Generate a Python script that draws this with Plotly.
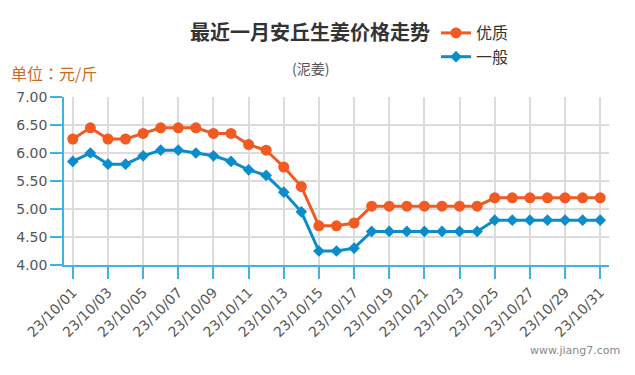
import plotly.graph_objects as go

dates = ["23/10/%02d" % d for d in range(1, 32)]
premium = [6.25, 6.45, 6.25, 6.25, 6.35, 6.45, 6.45, 6.45, 6.35, 6.35,
           6.15, 6.05, 5.75, 5.40, 4.70, 4.70, 4.75, 5.05, 5.05, 5.05,
           5.05, 5.05, 5.05, 5.05, 5.20, 5.20, 5.20, 5.20, 5.20, 5.20, 5.20]
ordinary = [5.85, 6.00, 5.80, 5.80, 5.95, 6.05, 6.05, 6.00, 5.95, 5.85,
            5.70, 5.60, 5.30, 4.95, 4.25, 4.25, 4.30, 4.60, 4.60, 4.60,
            4.60, 4.60, 4.60, 4.60, 4.80, 4.80, 4.80, 4.80, 4.80, 4.80, 4.80]
x_ticks = dates[::2]
y_ticks = [4.0, 4.5, 5.0, 5.5, 6.0, 6.5, 7.0]
y_tick_text = ["%.2f" % v for v in y_ticks]

ORANGE = "#f15a22"
BLUE = "#0b8dcb"
AXIS = "#3cb4e6"
FONT = "DejaVu Sans, Verdana, sans-serif"
CJK = "Noto Sans CJK SC, sans-serif"

# page body has an 8px default margin; work in reference-screen coords
OFF = 8
W, H = 635 - OFF, 375 - OFF
L, T = 64 - OFF, 97 - OFF
R, B = W - (609 - OFF), H - (265 - OFF)
PW, PH = W - L - R, H - T - B


def px(xs):
    return (xs - OFF - L) / PW


def py(ys):
    return (H - B - (ys - OFF)) / PH


fig = go.Figure()
fig.add_trace(go.Scatter(x=dates, y=premium, name="优质", mode="lines+markers",
                         line=dict(color=ORANGE, width=3),
                         marker=dict(symbol="circle", size=11, color=ORANGE)))
fig.add_trace(go.Scatter(x=dates, y=ordinary, name="一般", mode="lines+markers",
                         line=dict(color=BLUE, width=3),
                         marker=dict(symbol="diamond", size=9, color=BLUE)))

fig.update_layout(
    width=W, height=H,
    margin=dict(l=L, r=R, t=T, b=B, autoexpand=False),
    paper_bgcolor="white", plot_bgcolor="white",
    font=dict(family=FONT, color="#555", size=14),
    showlegend=True,
    legend=dict(xref="container", yref="container", x=(436 - OFF) / W, y=1 - (16 - OFF) / H,
                xanchor="left", yanchor="top",
                font=dict(family=CJK, size=16, color="#333"),
                bgcolor="rgba(0,0,0,0)", tracegroupgap=0, itemwidth=30),
    xaxis=dict(type="category", range=[-0.5, 30.5], automargin=False,
               tickmode="array", tickvals=x_ticks, ticktext=x_ticks,
               tickangle=-45, tickfont=dict(size=14, color="#555", family=FONT),
               showline=True, linecolor=AXIS, linewidth=1.5,
               ticks="outside", ticklen=12, tickcolor=AXIS, tickwidth=1.5,
               showgrid=True, gridcolor="#dcdcdc", gridwidth=1.5, zeroline=False),
    yaxis=dict(range=[4, 7], automargin=False,
               tickmode="array", tickvals=y_ticks, ticktext=y_tick_text,
               tickfont=dict(size=14, color="#555", family=FONT),
               showline=True, linecolor=AXIS, linewidth=1.5,
               ticks="outside", ticklen=12, tickcolor=AXIS, tickwidth=1.5,
               showgrid=True, gridcolor="#dcdcdc", gridwidth=1.5, zeroline=False),
    annotations=[
        dict(text="<b>最近一月安丘生姜价格走势</b>", xref="paper", yref="paper",
             x=px(310), y=py(31.7), xanchor="center", yanchor="middle",
             showarrow=False, font=dict(family=CJK, size=20, color="#333")),
        dict(text="(泥姜)", xref="paper", yref="paper",
             x=px(310), y=py(68), xanchor="center", yanchor="middle",
             showarrow=False, font=dict(family=CJK, size=14, color="#555")),
        dict(text="单位：元/斤", xref="paper", yref="paper",
             x=px(9), y=py(72.7), xanchor="left", yanchor="middle",
             showarrow=False, font=dict(family="Noto Sans CJK TC, sans-serif", size=16, color="#cd6a1f")),
        dict(text="www.jiang7.com", xref="paper", yref="paper",
             x=px(622), y=py(350), xanchor="right", yanchor="middle",
             showarrow=False, font=dict(family=FONT, size=11, color="#888")),
    ],
)

fig.write_html("out.html")
